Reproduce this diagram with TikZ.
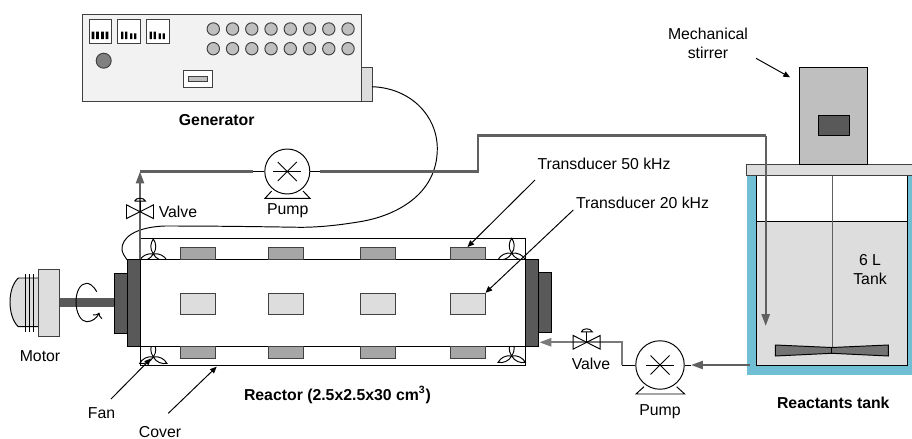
\documentclass[tikz,border=0pt]{standalone}
\usepackage{fontspec}
\setmainfont{Liberation Sans}
\usetikzlibrary{arrows.meta}
\definecolor{pipegray}{HTML}{606060}
\definecolor{pipelight}{HTML}{7A7A7A}
\definecolor{framegray}{HTML}{404040}
\definecolor{darkblock}{HTML}{595959}
\definecolor{midblock}{HTML}{A6A6A6}
\definecolor{lightblock}{HTML}{DDDDDD}
\definecolor{tankwall}{HTML}{70BFD5}
\tikzset{
  lbl/.style={inner sep=0pt,align=center},
  boldlbl/.style={lbl,font=\fontsize{9}{10.6}\selectfont\bfseries},
  pipe/.style={pipegray,line width=1.25pt},
  pipelow/.style={pipelight,line width=1.25pt},
  pipetip/.style={-{Triangle[length=6.8pt,width=4.6pt]}},
  pointer/.style={-{Triangle[length=3.8pt,width=3.2pt]}},
  tdtop/.style={draw=framegray,fill=midblock,inner sep=0pt,minimum width=0.7cm,minimum height=0.24cm},
  tdmid/.style={draw=framegray,fill=lightblock,inner sep=0pt,minimum width=0.7cm,minimum height=0.42cm},
  pumpnode/.style={draw,circle,fill=white,inner sep=0pt},
}
\begin{document}
\begin{tikzpicture}[x=0.02cm,y=-0.02cm,line width=0.55pt,font=\fontsize{9}{10.6}\selectfont]
\useasboundingbox (0,0) rectangle (912,439);
\draw[draw=framegray,fill=lightblock] (361.5,67.5) rectangle (372,101);
\draw[draw=framegray,fill=black!5] (82,14.7) rectangle (361.5,101);
\foreach \dx in {89,117.5,146.5} {
  \draw[draw=framegray,fill=white] (\dx,19.7) rectangle ++(22.5,23.6);
}
\fill (91.5,31.7) rectangle ++(2.8,7.4) (96,31.7) rectangle ++(2.8,7.4) (101,31.7) rectangle ++(2.8,7.4) (105.5,31.7) rectangle ++(2.8,7.4);
\fill (121,31.7) rectangle ++(2.4,7.4) (125,31.7) rectangle ++(2.4,7.4) (130,33.5) rectangle ++(2.4,5.6) (134,33.5) rectangle ++(2.4,5.6);
\fill (149.5,31.7) rectangle ++(2.4,7.4) (153.5,31.7) rectangle ++(2.4,7.4) (158.5,33.5) rectangle ++(2.4,5.6) (162.5,33.5) rectangle ++(2.4,5.6);
\foreach \i in {0,...,7} {
  \draw[draw=framegray,fill=black!25] (213.3+19.25*\i,29) circle (6.2);
  \draw[draw=framegray,fill=black!25] (213.3+19.25*\i,48.7) circle (6.2);
}
\draw[draw=framegray,fill=black!50] (103.7,60.7) circle (7.5);
\draw[draw=framegray,fill=white] (183.3,70.5) rectangle (212.5,87);
\draw[draw=framegray,fill=black!25] (188.5,76) rectangle (207.5,81.5);
\node[boldlbl] (genlabel) at (216.7,120) {Generator};

\draw (140,238.3) rectangle (525.3,365);
\foreach \fx/\fy in {153.3/254,511.7/253.3,153.3/357,511.7/356} {
  \foreach \a in {90,205,335} {
    \draw[shift={(\fx,\fy)},rotate=\a] (0,0) .. controls (5,3.6) and (11,3) .. (15,0) .. controls (11,-3) and (5,-3.6) .. (0,0);
  }
}
\draw[fill=white] (140,259.4) rectangle (525.3,346);
\foreach \i/\tx in {a/197.8,b/286.3,c/377.5,d/467.5} {
  \node[tdtop] (tt\i) at (\tx,253.5) {};
  \node[tdmid] (tm\i) at (\tx,303.8) {};
  \node[tdtop] (tb\i) at (\tx,352.3) {};
}
\draw[draw=black,fill=darkblock] (114,273.3) rectangle (127.3,333);
\draw[draw=black,fill=darkblock] (127.3,259.4) rectangle (140,346);
\draw[draw=black,fill=darkblock] (525.3,259.4) rectangle (538.5,346);
\draw[draw=black,fill=darkblock] (538.5,272.7) rectangle (551,332.5);

\fill[darkblock] (59.3,298.3) rectangle (114,306.7);
\draw[fill=lightblock] (38.7,278) -- (18.3,278) .. controls (13,283) and (10,292) .. (10,302) .. controls (10,312) and (13,322) .. (18.3,326.7) -- (38.7,326.7);
\draw[draw=framegray,fill=lightblock] (38.7,269.3) rectangle (59.3,336.7);
\foreach \mx in {25.3,29.3,33.7} {
  \draw (\mx,274) -- (\mx,331.7);
}
\draw[->] (96.7,291.7) .. controls (93,285) and (89,283.3) .. (86.7,283.3) .. controls (80,283.3) and (76,292) .. (76,301.7) .. controls (76,313) and (81,321.7) .. (86.7,321.7) .. controls (92,321.7) and (97,318) .. (99.3,312.7);
\node[lbl] (motorlabel) at (40,355.7) {Motor};

\draw (372,86.7) .. controls (410,88) and (437,115) .. (437.3,148.3) .. controls (437.5,195) and (395,216) .. (360,221.7) .. controls (340,225) and (320,227.3) .. (300,227.3) .. controls (250,226.5) and (210,226) .. (165,226) .. controls (135,227) and (121,238) .. (122,250) .. controls (122.3,253) and (125,257) .. (127.3,260);

\node[pumpnode,minimum size=0.9cm] (pumpa) at (287.3,171.5) {};
\node[pumpnode,minimum size=0.97cm] (pumpb) at (660,365) {};
\foreach \p in {pumpa,pumpb} {
  \draw (\p.center) ++(-14,0) -- ++(28,0);
  \draw (\p.center) ++(-9.5,-9.5) -- ++(19,19);
  \draw (\p.center) ++(-9.5,9.5) -- ++(19,-19);
}
\draw (271.7,191) -- (265,198.3) -- (310,198.3) -- (303,191);
\draw (644,386.7) -- (636,394) -- (684.7,394) -- (676.6,386.7);
\node[lbl] (pumpalabel) at (287.7,211) {Pump};
\node[lbl] (pumpblabel) at (660,412) {Pump};

\coordinate (reactorin) at (140,259.4);
\coordinate (cornera) at (140,171.5);
\coordinate (stuba) at (253,171.5);
\coordinate (stubb) at (320,171.5);
\coordinate (stepa) at (478.3,171.5);
\coordinate (stepb) at (478.3,135.5);
\coordinate (stepc) at (765.7,135.5);
\coordinate (tanktip) at (765.7,326);
\draw (stuba) -- (pumpa.west);
\draw (pumpa.east) -- (stubb);
\draw[pipe,pipetip] (reactorin) -- (cornera);
\draw[pipe] (cornera) -- (stuba);

\fill[tankwall] (746.7,175) rectangle (912,374.7);
\draw[fill=white] (756.7,175) rectangle (907.3,365.7);
\draw[fill=lightblock] (756.7,221.7) rectangle (907.3,365.7);
\draw[draw=framegray,fill=lightblock] (746.7,164) rectangle (912,175.7);
\draw[draw=black,fill=black!25] (799.3,67.7) rectangle (867.7,164);
\draw[draw=black,fill=darkblock] (818.3,115.3) rectangle (849,135.5);
\draw[pipegray,line width=1.1pt] (832.5,175.7) -- (832.5,346.5);
\draw[fill=black!55] (775.3,345) -- (831.8,347.5) -- (888.3,345) -- (888.3,356) -- (831.8,353.3) -- (775.3,356) -- cycle;
\draw (831.8,347.5) -- (831.8,353.3);
\node[lbl] (tanksize) at (870,269.5) {6 L\\Tank};
\node[boldlbl] (tanklabel) at (833.3,402.7) {Reactants tank};
\node[lbl] (stirlabel) at (708,43.3) {Mechanical\\stirrer};
\coordinate (stirfrom) at (756,58.3);
\coordinate (stirto) at (790,77.3);
\draw[pointer] (stirfrom) -- (stirto);

\draw[pipe] (stubb) -- (stepa) -- (stepb) -- (stepc);
\draw[pipe,pipetip] (stepc) -- (tanktip);

\coordinate (tankout) at (750,365);
\coordinate (pumpbstub) at (691,365);
\coordinate (lowcorner) at (621.7,342.3);
\coordinate (lowfoot) at (621.7,365);
\coordinate (reactorout) at (539.3,342.3);
\draw (pumpb.east) -- (pumpbstub);
\draw[pipe,pipetip] (tankout) -- (pumpbstub);
\draw (lowfoot) -- (pumpb.west);
\draw[pipelow,pipetip] (lowfoot) -- (lowcorner) -- (reactorout);

\foreach \vx/\vy in {140/211.7,586.7/342.3} {
  \draw (\vx-13.5,\vy-6.8) -- (\vx+13.5,\vy+6.8) -- (\vx+13.5,\vy-6.8) -- (\vx-13.5,\vy+6.8) -- cycle;
  \draw (\vx,\vy) -- (\vx,\vy-10.5);
  \draw (\vx-5.5,\vy-10.5) -- (\vx+5.5,\vy-10.5) .. controls (\vx+4,\vy-14.5) and (\vx-4,\vy-14.5) .. (\vx-5.5,\vy-10.5);
}
\node[lbl] (valvealabel) at (178,211.7) {Valve};
\node[lbl] (valveblabel) at (591,363.7) {Valve};

\node[lbl] (tdfifty) at (604,164) {Transducer 50 kHz};
\node[lbl] (tdtwenty) at (642.5,202.7) {Transducer 20 kHz};
\coordinate (fiftyfrom) at (535,180);
\coordinate (twentyfrom) at (573.3,210);
\draw[pointer] (fiftyfrom) -- (ttd.north);
\draw[pointer] (twentyfrom) -- (tmd.north east);

\node[lbl] (fanlabel) at (101.5,412.7) {Fan};
\node[lbl] (coverlabel) at (160,431.7) {Cover};
\coordinate (fanfrom) at (111,399);
\coordinate (fanto) at (151,358.5);
\coordinate (coverfrom) at (168.3,413.3);
\coordinate (coverto) at (216.7,366.7);
\draw[pointer] (fanfrom) -- (fanto);
\draw[pointer] (coverfrom) -- (coverto);
\node[boldlbl] (reactorlabel) at (337.5,395) {Reactor (2.5x2.5x30 cm\textsuperscript{3})};
\end{tikzpicture}
\end{document}
